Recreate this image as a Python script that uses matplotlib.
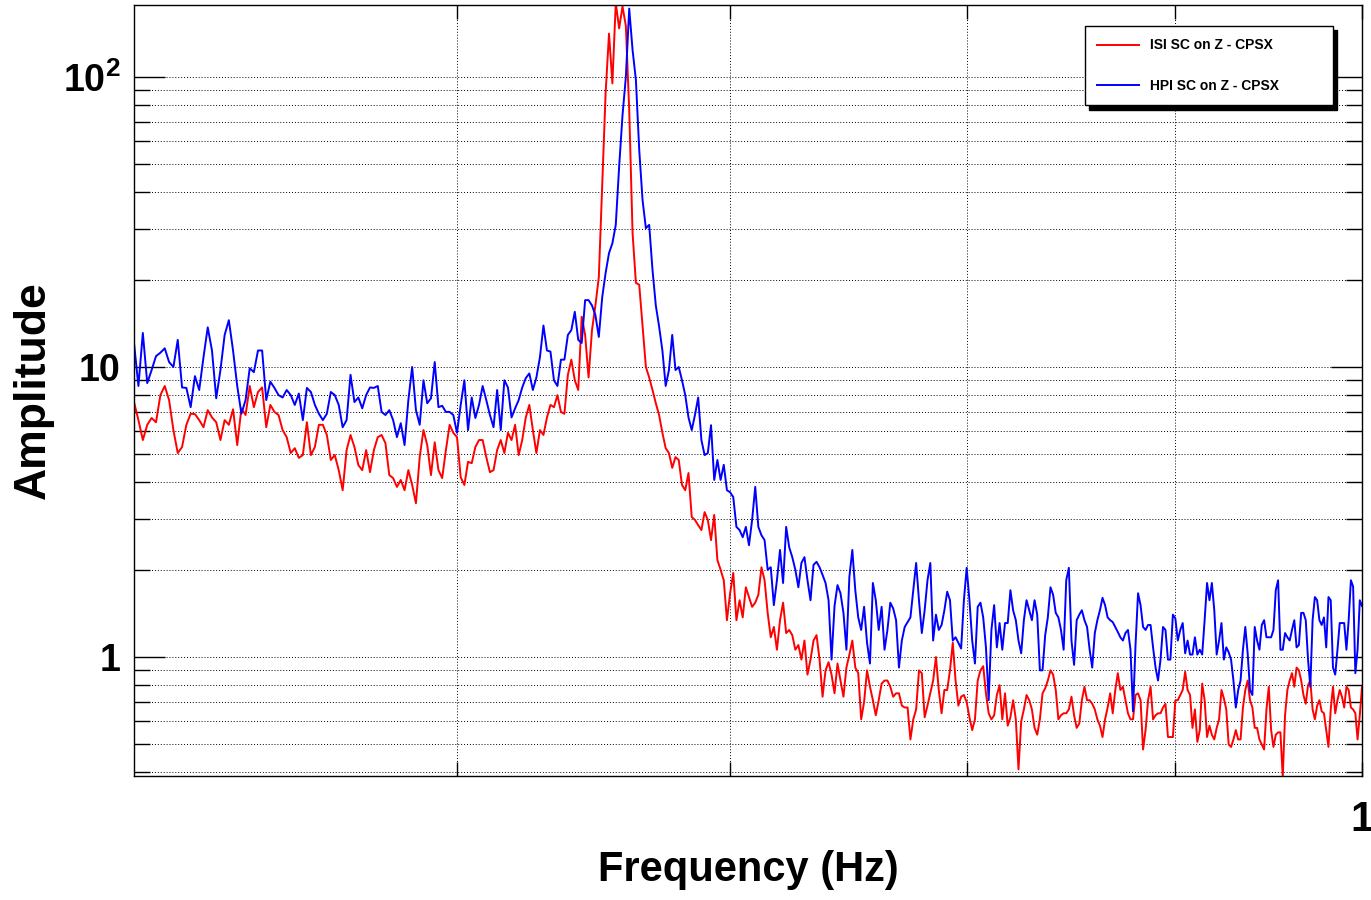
import numpy as np
import matplotlib
matplotlib.use("Agg")
import matplotlib.pyplot as plt
from matplotlib.ticker import FixedLocator, NullLocator, LogLocator, NullFormatter, FuncFormatter

plt.rcParams['font.family'] = ['Liberation Sans', 'DejaVu Sans']
plt.rcParams['font.weight'] = 'bold'
plt.rcParams['mathtext.fontset'] = 'custom'
plt.rcParams['mathtext.rm'] = 'Liberation Sans:bold'
plt.rcParams['mathtext.bf'] = 'Liberation Sans:bold'

# frequency sampling (Hz)
freq_start = 0.5
freq_step = 0.00125

series_labels = ['ISI SC on Z - CPSX', 'HPI SC on Z - CPSX']

isi = [
    7.57, 6.56, 5.60, 6.32, 6.67, 6.45, 8.0, 8.6, 7.69, 6.06,
    5.05, 5.3, 6.32, 6.9, 6.88, 6.56, 6.2, 7.1, 6.7, 6.45,
    5.60, 6.56, 6.32, 7.15, 5.38, 7.2, 6.83, 8.6, 7.27, 8.2,
    8.5, 6.2, 7.4, 7.0, 6.83, 6.06, 5.73, 5.05, 5.25, 4.86,
    4.97, 6.45, 4.97, 5.3, 6.32, 6.32, 5.83, 4.78, 4.97, 4.41,
    3.76, 5.17, 5.83, 5.3, 4.59, 4.41, 5.17, 4.34, 5.17, 5.73,
    5.83, 5.46, 4.24, 4.14, 3.86, 4.08, 3.76, 4.41, 3.92, 3.39,
    4.89, 6.06, 5.38, 4.24, 5.5, 4.41, 4.14, 5.17, 6.32, 5.93,
    5.73, 4.17, 3.92, 4.71, 4.66, 5.3, 5.6, 5.6, 4.89, 4.34,
    4.41, 5.17, 5.6, 5.05, 5.93, 5.6, 6.32, 4.97, 5.6, 6.7,
    7.4, 6.06, 5.05, 6.06, 5.83, 6.7, 7.4, 7.27, 8.0, 7.0,
    6.9, 9.4, 10.6, 9.0, 8.33, 14.9, 12.9, 9.2, 13.4, 16.3,
    20.4, 42.4, 88, 141, 95, 180, 147, 175, 150, 77,
    29, 19.5, 19.2, 13.9, 10.0, 9.2, 8.33, 7.5, 6.83, 5.93,
    5.25, 5.05, 4.49, 4.89, 4.78, 3.92, 3.76, 4.31, 3.04, 2.97,
    2.85, 2.74, 3.16, 2.97, 2.53, 3.09, 2.16, 2.0, 1.84, 1.34,
    1.66, 1.95, 1.34, 1.57, 1.37, 1.74, 1.61, 1.49, 1.54, 1.64,
    2.04, 1.84, 1.42, 1.17, 1.27, 1.06, 1.34, 1.54, 1.21, 1.24,
    1.19, 1.06, 1.10, 0.98, 1.14, 0.87, 0.98, 1.14, 1.19, 0.98,
    0.73, 0.90, 0.96, 0.87, 0.75, 0.95, 0.83, 0.73, 0.92, 1.02,
    1.14, 0.92, 0.88, 0.61, 0.70, 0.90, 0.79, 0.71, 0.63, 0.71,
    0.81, 0.83, 0.83, 0.79, 0.73, 0.75, 0.75, 0.68, 0.67, 0.67,
    0.52, 0.61, 0.66, 0.90, 0.88, 0.62, 0.68, 0.75, 0.83, 1.0,
    0.77, 0.64, 0.77, 0.77, 0.90, 1.12, 0.83, 0.68, 0.73, 0.74,
    0.70, 0.62, 0.56, 0.61, 0.83, 0.90, 0.93, 0.75, 0.64, 0.61,
    0.63, 0.74, 0.80, 0.61, 0.75, 0.58, 0.62, 0.71, 0.61, 0.41,
    0.6, 0.66, 0.74, 0.71, 0.66, 0.57, 0.54, 0.61, 0.75, 0.78,
    0.83, 0.90, 0.87, 0.77, 0.61, 0.63, 0.64, 0.64, 0.66, 0.73,
    0.63, 0.57, 0.59, 0.71, 0.79, 0.71, 0.71, 0.69, 0.66, 0.61,
    0.58, 0.53, 0.61, 0.67, 0.75, 0.64, 0.77, 0.88, 0.77, 0.79,
    0.71, 0.64, 0.61, 0.61, 0.74, 0.75, 0.71, 0.48, 0.56, 0.71,
    0.79, 0.61, 0.63, 0.64, 0.64, 0.67, 0.69, 0.53, 0.53, 0.53,
    0.71, 0.71, 0.74, 0.77, 0.89, 0.77, 0.74, 0.57, 0.66, 0.51,
    0.56, 0.81, 0.71, 0.53, 0.58, 0.54, 0.52, 0.57, 0.61, 0.77,
    0.72, 0.66, 0.50, 0.49, 0.52, 0.56, 0.52, 0.52, 0.67, 0.77,
    0.83, 0.71, 0.67, 0.57, 0.57, 0.52, 0.50, 0.48, 0.66, 0.79,
    0.56, 0.49, 0.54, 0.55, 0.55, 0.385, 0.63, 0.77, 0.83, 0.88,
    0.79, 0.92, 0.90, 0.83, 0.74, 0.69, 0.80, 0.83, 0.66, 0.61,
    0.68, 0.71, 0.65, 0.64, 0.56, 0.49, 0.66, 0.79, 0.64, 0.71,
    0.77, 0.73, 0.67, 0.79, 0.77, 0.67, 0.66, 0.64, 0.52, 0.63,
    0.79,
]

hpi = [
    12.1, 8.6, 13.1, 8.8, 9.76, 10.9, 11.2, 11.6, 10.4, 10.0,
    12.4, 8.5, 8.47, 7.27, 9.3, 8.33, 10.8, 13.7, 11.4, 7.8,
    9.76, 12.9, 14.5, 11.4, 8.6, 6.9, 7.69, 9.9, 9.6, 11.4,
    11.4, 7.69, 8.9, 8.47, 8.0, 7.85, 8.33, 8.0, 7.4, 8.1,
    6.56, 8.47, 8.2, 7.4, 6.9, 6.56, 6.9, 8.2, 8.0, 7.4,
    6.2, 6.56, 9.4, 7.57, 7.85, 7.2, 8.0, 8.5, 8.47, 8.6,
    7.0, 6.83, 7.1, 6.56, 5.73, 6.4, 5.38, 7.69, 10.0, 7.1,
    6.32, 9.0, 7.5, 7.8, 10.4, 7.27, 7.35, 7.0, 7.0, 6.83,
    5.93, 7.4, 9.0, 6.06, 7.85, 6.67, 7.4, 8.6, 7.69, 6.83,
    6.2, 8.33, 6.06, 9.0, 8.5, 6.7, 7.2, 7.69, 8.5, 9.16,
    9.5, 8.33, 9.2, 10.8, 13.9, 11.4, 11.3, 9.0, 8.6, 10.6,
    10.6, 12.9, 13.4, 15.5, 12.4, 12.1, 17.0, 17.0, 16.3, 15.1,
    12.7, 17.4, 21.1, 24.7, 26.7, 30.9, 49.0, 73.7, 100, 172,
    124, 97.6, 56, 37.6, 30.1, 30.9, 21.6, 16.3, 13.8, 11.4,
    8.6, 9.76, 12.9, 9.76, 10.0, 9.0, 8.0, 6.7, 6.06, 6.83,
    7.85, 5.6, 4.97, 5.05, 6.3, 4.08, 4.78, 4.08, 4.6, 3.76,
    3.7, 3.56, 2.81, 2.74, 2.59, 2.81, 2.43, 2.97, 3.86, 2.81,
    2.63, 2.53, 2.0, 2.04, 1.51, 1.84, 2.34, 1.80, 2.81, 2.39,
    2.21, 2.0, 1.74, 2.11, 2.21, 1.84, 1.57, 2.08, 2.13, 2.04,
    1.92, 1.80, 1.57, 0.98, 1.5, 1.77, 1.66, 1.42, 1.06, 1.89,
    2.34, 1.70, 1.37, 1.24, 1.49, 1.12, 0.95, 1.80, 1.57, 1.24,
    1.49, 1.06, 1.24, 1.54, 1.47, 1.34, 0.92, 1.14, 1.27, 1.32,
    1.37, 1.70, 2.11, 1.57, 1.21, 1.45, 1.84, 2.11, 1.14, 1.40,
    1.24, 1.29, 1.45, 1.68, 1.57, 1.14, 1.17, 1.12, 1.07, 1.57,
    2.03, 1.57, 1.14, 0.95, 1.49, 1.54, 1.37, 1.08, 0.71, 1.24,
    1.51, 1.08, 1.31, 1.06, 1.31, 1.31, 1.70, 1.45, 1.34, 1.14,
    1.03, 1.34, 1.57, 1.45, 1.34, 1.57, 1.40, 0.90, 0.90, 1.19,
    1.37, 1.74, 1.64, 1.42, 1.37, 1.24, 1.06, 1.84, 2.03, 1.14,
    0.94, 1.34, 1.40, 1.45, 1.34, 1.27, 1.06, 0.92, 1.21, 1.34,
    1.45, 1.60, 1.51, 1.37, 1.34, 1.32, 1.27, 1.22, 1.17, 1.14,
    1.21, 1.24, 1.06, 0.65, 1.1, 1.66, 1.51, 1.27, 1.24, 1.29,
    1.29, 1.08, 0.92, 0.83, 0.98, 1.27, 1.24, 0.98, 0.98, 1.40,
    1.36, 1.14, 1.24, 1.31, 1.03, 1.14, 1.02, 1.02, 1.17, 1.02,
    1.06, 1.02, 1.34, 1.80, 1.57, 1.80, 1.45, 1.02, 1.14, 1.31,
    0.98, 1.08, 1.04, 0.98, 0.83, 0.67, 0.77, 0.83, 1.06, 1.27,
    1.03, 0.77, 0.74, 1.27, 1.14, 1.06, 1.29, 1.34, 1.17, 1.17,
    1.17, 1.24, 1.70, 1.84, 1.06, 1.06, 1.21, 1.17, 1.14, 1.24,
    1.34, 1.08, 1.10, 1.42, 1.42, 1.34, 0.98, 0.79, 1.34, 1.61,
    1.57, 1.34, 1.29, 1.37, 1.08, 1.61, 1.57, 0.92, 0.87, 1.06,
    1.31, 1.31, 1.31, 1.06, 1.34, 1.84, 1.75, 0.88, 1.06, 1.57,
    1.5,
]

x_ticks = [0.6, 0.7, 0.8, 0.9, 1.0]
y_major = [1, 10, 100]
y_labels = {1: '1', 10: '10', 100: r'$\mathbf{10^{2}}$'}

freq_isi = freq_start + freq_step * np.arange(len(isi))
freq_hpi = freq_start + freq_step * np.arange(len(hpi))

fig = plt.figure(figsize=(13.71, 9.0), dpi=100)
ax = fig.add_axes([134 / 1371, 124 / 900, 1228 / 1371, 771 / 900])

ax.plot(freq_isi, isi, color='#ff0000', lw=1.4, label=series_labels[0])
ax.plot(freq_hpi, hpi, color='#0000ff', lw=1.4, label=series_labels[1])

ax.set_xscale('log')
ax.set_yscale('log')
ax.set_xlim(0.5, 1.0)
ax.set_ylim(0.389, 177)

ax.xaxis.set_major_locator(FixedLocator(x_ticks))
ax.xaxis.set_minor_locator(NullLocator())
ax.xaxis.set_major_formatter(FuncFormatter(lambda v, p: '1' if abs(v - 1.0) < 1e-9 else ''))

ax.yaxis.set_major_locator(FixedLocator(y_major))
ax.yaxis.set_minor_locator(LogLocator(base=10, subs=np.arange(2, 10)))
ax.yaxis.set_minor_formatter(NullFormatter())
ax.yaxis.set_major_formatter(FuncFormatter(lambda v, p: y_labels.get(int(round(v)), '')))

ax.tick_params(axis='y', which='major', direction='in', length=22, width=1,
               left=True, right=True, pad=10, labelsize=27)
ax.tick_params(axis='y', which='minor', direction='in', length=11.5, width=1,
               left=True, right=True)
ax.tick_params(axis='x', which='major', direction='in', length=10, width=1,
               top=True, bottom=True, pad=17, labelsize=30)

grid_style = dict(color='black', linestyle=(0, (1, 2)), linewidth=0.7)
ax.grid(True, which='both', axis='y', **grid_style)
ax.grid(True, which='major', axis='x', **grid_style)
ax.set_axisbelow(True)

for s in ax.spines.values():
    s.set_linewidth(1.0)
    s.set_color('black')

ax.set_xlabel('Frequency (Hz)', fontsize=30, fontweight='bold')
ax.xaxis.set_label_coords(0.5, (776 - 850) / 771)
ax.set_ylabel('Amplitude', fontsize=32, fontweight='bold')
ax.yaxis.set_label_coords((54 - 134) / 1228, 0.5)

leg = ax.legend(loc='upper left', bbox_to_anchor=(0.7744, 0.0, 0.2020, 0.9728),
                mode='expand', borderaxespad=0, fontsize=10, frameon=True,
                fancybox=False, edgecolor='black', framealpha=1,
                shadow={'ox': 3, 'oy': -3, 'color': 'black', 'alpha': 1},
                handlelength=3.0, handletextpad=0.8, borderpad=0.9, labelspacing=1.9)
leg.get_frame().set_linewidth(1.0)

fig.savefig('out.png', dpi=100)
